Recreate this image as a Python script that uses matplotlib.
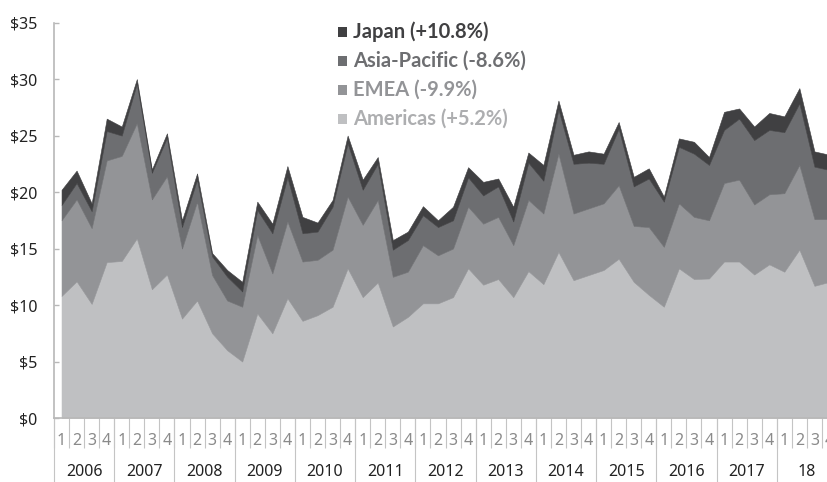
import numpy as np
import matplotlib
matplotlib.use("Agg")
import matplotlib.pyplot as plt
import matplotlib.transforms as mtransforms
from matplotlib.lines import Line2D

plt.rcParams['font.family'] = ['Noto Sans', 'DejaVu Sans']

years = ["2006", "2007", "2008", "2009", "2010", "2011", "2012",
         "2013", "2014", "2015", "2016", "2017", "18"]
quarter_labels = ["1", "2", "3", "4"]

americas = [10.8, 12.1, 10.1, 13.8, 13.9, 15.9, 11.4, 12.7,
            8.8, 10.4, 7.5, 6.0, 5.0, 9.25, 7.5, 10.6,
            8.6, 9.1, 9.85, 13.25, 10.7, 12.0, 8.1, 8.95,
            10.15, 10.15, 10.7, 13.25, 11.8, 12.3, 10.7, 13.0,
            11.85, 14.7, 12.2, 12.65, 13.1, 14.1, 12.05, 10.9,
            9.85, 13.25, 12.3, 12.35, 13.85, 13.85, 12.7, 13.6,
            12.95, 14.9, 11.7, 12.05]
emea = [6.7, 7.25, 6.7, 9.0, 9.3, 10.2, 7.95, 8.7,
        6.2, 8.75, 5.15, 4.4, 4.85, 6.95, 5.3, 6.8,
        5.25, 4.9, 5.05, 6.35, 6.4, 7.3, 4.4, 4.0,
        5.15, 4.25, 4.3, 5.45, 5.4, 5.5, 4.6, 6.3,
        6.25, 8.7, 5.9, 5.9, 5.9, 6.5, 4.95, 6.0,
        5.3, 5.75, 5.5, 5.15, 6.95, 7.25, 6.2, 6.2,
        6.95, 7.5, 5.9, 5.55]
asia_pacific = [1.35, 1.45, 1.5, 2.6, 1.8, 3.5, 2.35, 3.4,
                1.9, 1.95, 1.65, 2.1, 1.35, 2.2, 3.55, 3.9,
                2.5, 2.5, 3.8, 4.7, 3.1, 3.2, 2.4, 2.8,
                2.65, 2.5, 2.5, 2.6, 2.5, 2.7, 2.1, 3.3,
                2.9, 3.9, 4.4, 4.05, 3.5, 5.0, 3.5, 4.3,
                4.0, 5.0, 5.6, 4.9, 4.7, 5.4, 5.7, 5.7,
                5.4, 5.45, 4.65, 4.35]
japan = [1.35, 1.1, 0.7, 1.1, 0.8, 0.4, 0.3, 0.4,
         0.6, 0.55, 0.3, 0.6, 0.85, 0.75, 0.85, 1.0,
         1.45, 0.8, 0.6, 0.7, 0.9, 0.6, 0.85, 0.75,
         0.8, 0.6, 1.2, 0.9, 1.2, 0.7, 1.3, 0.9,
         1.4, 0.8, 0.8, 1.0, 0.9, 0.6, 0.85, 0.9,
         0.45, 0.75, 1.05, 0.7, 1.6, 0.9, 1.2, 1.5,
         1.4, 1.35, 1.35, 1.35]

series_names = ["Americas (+5.2%)", "EMEA (-9.9%)", "Asia-Pacific (-8.6%)", "Japan (+10.8%)"]
fill_colors = ["#bfc0c2", "#939497", "#6d6e71", "#404042"]
text_colors = ["#adaeb0", "#939497", "#6d6e71", "#404042"]
y_ticks = [0, 5, 10, 15, 20, 25, 30, 35]

W, H = 828, 482
fig = plt.figure(figsize=(W / 100, H / 100), dpi=100)
ax_left, ax_right, ax_top, ax_bottom = 54, 837, 22.6, 418
ax = fig.add_axes([ax_left / W, (H - ax_bottom) / H,
                   (ax_right - ax_left) / W, (ax_bottom - ax_top) / H])

n = len(americas)
x = np.arange(n) + 0.5
ax.stackplot(x, americas, emea, asia_pacific, japan, colors=fill_colors,
             edgecolor="face", linewidth=0.4)

ax.set_xlim(0, n)
ax.set_ylim(0, 35)

for s in ["top", "right"]:
    ax.spines[s].set_visible(False)
for s in ["left", "bottom"]:
    ax.spines[s].set_color("#b8b8b8")
    ax.spines[s].set_linewidth(1.2)

ax.set_yticks(y_ticks)
ax.set_yticklabels([f"${v}" for v in y_ticks])
ax.tick_params(axis="y", direction="in", length=3.5, width=1, color="#b8b8b8",
               labelsize=11.5, labelcolor="#222222", pad=12)

# quarter separators as major ticks, quarter labels as minor ticks
ax.set_xticks(np.arange(0, n + 1))
ax.set_xticklabels([])
ax.tick_params(axis="x", which="major", direction="out", length=21.5, width=0.8,
               color="#c4c4c4")
ax.set_xticks(x, minor=True)
ax.set_xticklabels([quarter_labels[i % 4] for i in range(n)], minor=True)
ax.tick_params(axis="x", which="minor", length=0, labelsize=11.5,
               labelcolor="#8a8a8a", pad=11)

# year separators and labels
trans = mtransforms.blended_transform_factory(ax.transData, fig.transFigure)
for k in range(len(years) + 1):
    xv = k * 4
    ax.add_line(Line2D([xv, xv], [(H - ax_bottom) / H, 0], transform=trans,
                       color="#c4c4c4", linewidth=0.8, clip_on=False))
for k, yl in enumerate(years):
    ax.text(k * 4 + 2, (H - 472) / H, yl, transform=trans, ha="center",
            va="center", fontsize=11.5, color="#222222")

# legend (top to bottom: Japan, Asia-Pacific, EMEA, Americas)
legend_y = [32, 61, 90, 119]
for row, idx in enumerate([3, 2, 1, 0]):
    yy = (H - legend_y[row]) / H
    fig.patches.append(plt.Rectangle((338 / W, yy - 4.5 / H), 9 / W, 9 / H,
                                     transform=fig.transFigure,
                                     facecolor=fill_colors[idx], edgecolor="none"))
    fig.text(353 / W, yy, series_names[idx], ha="left", va="center",
             fontsize=14.5, fontweight="bold", color=text_colors[idx],
             family=["Lato", "DejaVu Sans"])

fig.savefig("out.png", dpi=100)
